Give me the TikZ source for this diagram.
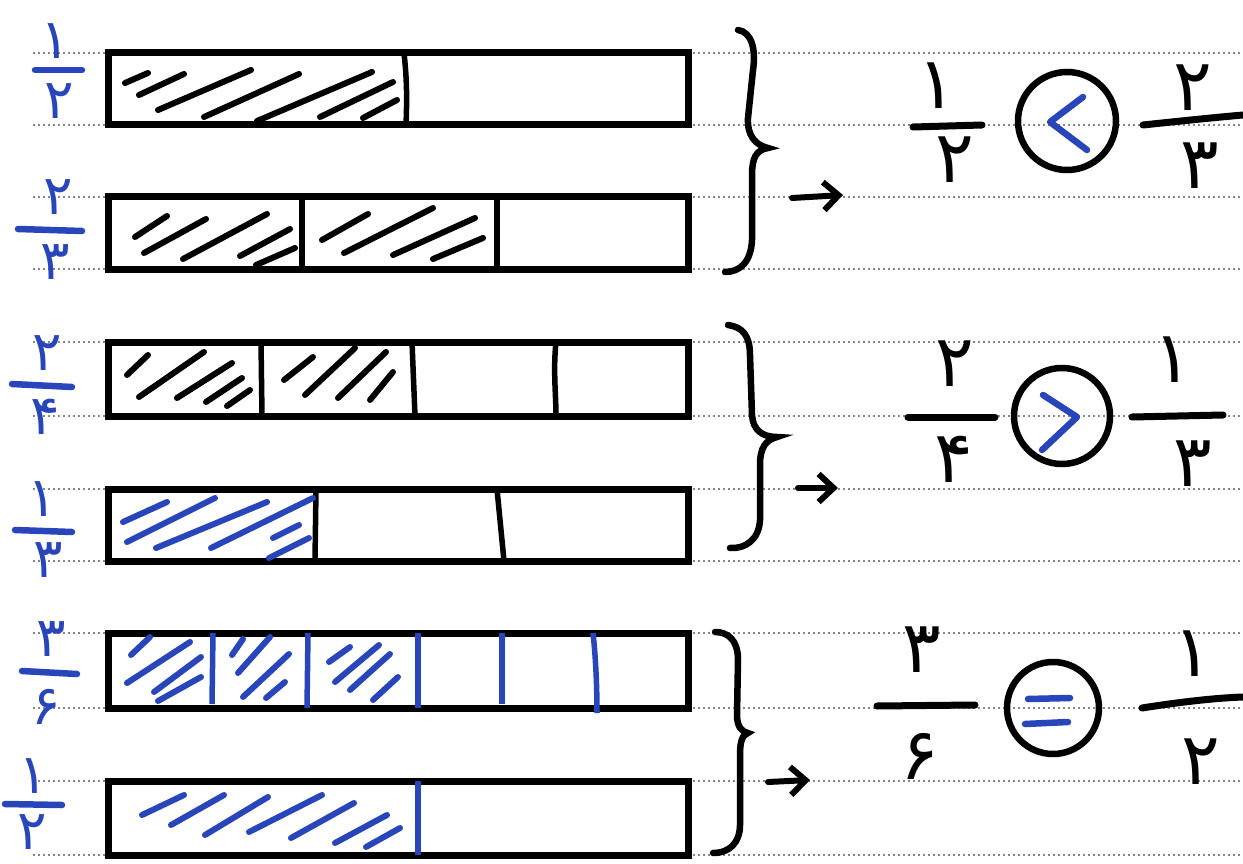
\documentclass[tikz,border=0pt]{standalone}
\usepackage{fontspec}
\newfontfamily\fa[Script=Arabic]{DejaVu Sans}
\usetikzlibrary{arrows.meta}
\definecolor{pen}{RGB}{40,70,185}
\definecolor{dotc}{RGB}{135,135,135}
\begin{document}
\begin{tikzpicture}[x=1pt,y=-1pt,
  guide/.style={dotc, line width=2.2pt, dash pattern=on 2.2pt off 2.8pt},
  barbox/.style={line width=7pt},
  divider/.style={line width=5.5pt},
  hatch/.style={line width=6pt, line cap=round},
  brace/.style={line width=6.5pt, line cap=round},
  arr/.style={line width=6pt, line cap=round, -{Straight Barb[length=15pt,width=28pt]}},
  digL/.style={text=pen, font=\fa\fontsize{55}{55}\selectfont, inner sep=0pt},
  digR/.style={text=black, font=\fa\fontsize{72}{72}\selectfont, inner sep=0pt},
  fracL/.style={pen, line width=6.5pt, line cap=round},
  fracR/.style={line width=7pt, line cap=round},
  opcirc/.style={circle, draw, line width=6.5pt, inner sep=0pt},
  opsym/.style={pen, line width=6.5pt, line cap=round, line join=round}
]
\useasboundingbox (0,0) rectangle (1243,864);
\fill[white] (0,0) rectangle (1243,864);
% guide lines
\foreach \y in {53,125,197,269,342,416,489,561,633,708,781,855}
  \draw[guide] (33,\y) -- (1243,\y);

% ---------- bars ----------
\draw[barbox] (108,53) rectangle (688,125);
\draw[barbox] (108,197) rectangle (688,269);
\draw[barbox] (108,342) rectangle (688,416);
\draw[barbox] (108,489) rectangle (688,561);
\draw[barbox] (108,633) rectangle (688,708);
\draw[barbox] (108,781) rectangle (688,855);

% dividers
\draw[divider] (404,53) .. controls (407,80) and (407,100) .. (406,125);
\draw[divider] (302,197) -- (302,269);
\draw[divider] (497,197) -- (497,269);
\draw[divider] (261,342) -- (262,416);
\draw[divider] (412,342) -- (415,416);
\draw[divider] (556,342) .. controls (553,370) and (556,395) .. (556,416);
\draw[divider] (316,489) -- (315,561);
\draw[divider] (497,489) -- (504,561);
\draw[divider,pen] (213,633) -- (212,704);
\draw[divider,pen] (308,633) -- (307,708);
\draw[divider,pen] (418,633) -- (418,708);
\draw[divider,pen] (502,633) -- (502,704);
\draw[divider,pen] (593,633) .. controls (596,660) and (597,690) .. (597,713);
\draw[divider,pen] (418,781) -- (418,855);

% hatching bar 1
\draw[hatch] (125,83) -- (148,73);
\draw[hatch] (139,95) -- (184,74);
\draw[hatch] (158,110) -- (251,70);
\draw[hatch] (204,117) -- (299,74);
\draw[hatch] (257,121) -- (372,72);
\draw[hatch] (320,117) -- (393,82);
\draw[hatch] (363,118) -- (397,100);
% hatching bar 2
\draw[hatch] (135,237) -- (167,216);
\draw[hatch] (144,253) -- (206,219);
\draw[hatch] (183,259) -- (267,214);
\draw[hatch] (240,256) -- (290,229);
\draw[hatch] (256,265) -- (295,248);
\draw[hatch] (322,240) -- (368,214);
\draw[hatch] (344,253) -- (433,208);
\draw[hatch] (393,255) -- (475,218);
\draw[hatch] (433,259) -- (483,238);
% hatching bar 3
\draw[hatch] (127,375) -- (148,355);
\draw[hatch] (139,397) -- (204,352);
\draw[hatch] (177,398) -- (232,363);
\draw[hatch] (206,402) -- (242,378);
\draw[hatch] (227,406) -- (250,390);
\draw[hatch] (284,380) -- (313,357);
\draw[hatch] (305,395) -- (355,348);
\draw[hatch] (338,398) -- (386,352);
\draw[hatch] (370,400) -- (393,372);
% hatching bar 4 (blue)
\draw[hatch,pen] (123,522) -- (167,502);
\draw[hatch,pen] (127,542) -- (215,498);
\draw[hatch,pen] (156,548) -- (267,502);
\draw[hatch,pen] (211,548) -- (313,498);
\draw[hatch,pen] (273,538) -- (299,525);
\draw[hatch,pen] (269,558) -- (309,538);
% hatching bar 5 (blue)
\draw[hatch,pen] (131,655) -- (150,637);
\draw[hatch,pen] (127,683) -- (190,642);
\draw[hatch,pen] (154,692) -- (201,657);
\draw[hatch,pen] (158,701) -- (201,677);
\draw[hatch,pen] (232,655) -- (243,639);
\draw[hatch,pen] (238,673) -- (270,637);
\draw[hatch,pen] (243,697) -- (289,654);
\draw[hatch,pen] (266,698) -- (285,682);
\draw[hatch,pen] (329,662) -- (350,647);
\draw[hatch,pen] (335,682) -- (379,645);
\draw[hatch,pen] (350,690) -- (390,654);
\draw[hatch,pen] (373,700) -- (398,677);
% hatching bar 6 (blue)
\draw[hatch,pen] (142,815) -- (184,795);
\draw[hatch,pen] (171,825) -- (224,795);
\draw[hatch,pen] (205,835) -- (268,797);
\draw[hatch,pen] (249,832) -- (322,795);
\draw[hatch,pen] (291,838) -- (354,803);
\draw[hatch,pen] (335,843) -- (387,815);
\draw[hatch,pen] (366,847) -- (400,828);

% ---------- left labels ----------
\node[digL] (l1n) at (55,41) {۱};
\node[digL] (l1d) at (59,101) {۲};
\draw[fracL] (35,70) -- (82,70);
\node[digL] (l2n) at (58,197) {۲};
\node[digL] (l2d) at (55,262) {۳};
\draw[fracL] (18,229) -- (82,231);
\node[digL] (l3n) at (47,353) {۲};
\node[digL] (l3d) at (45,417) {۴};
\draw[fracL] (12,384) -- (72,387);
\node[digL] (l4n) at (42,499) {۱};
\node[digL] (l4d) at (48,560) {۳};
\draw[fracL] (15,530) -- (72,532);
\node[digL] (l5n) at (51,639) {۳};
\node[digL] (l5d) at (46,707) {۶};
\draw[fracL] (22,671) -- (77,674);
\node[digL] (l6n) at (33,776) {۱};
\node[digL] (l6d) at (32,832) {۲};
\draw[fracL] (5,804) -- (62,805);

% ---------- braces ----------
\draw[brace] (738,30) .. controls (752,32) and (756,50) .. (753,70) -- (748,118)
  .. controls (747,135) and (755,145) .. (768,148)
  .. controls (756,150) and (752,158) .. (752,175) -- (752,240)
  .. controls (751,262) and (740,272) .. (725,272);
\draw[brace] (728,325) .. controls (742,327) and (750,335) .. (750,355) -- (752,415)
  .. controls (753,430) and (762,437) .. (777,437)
  .. controls (766,440) and (760,447) .. (760,465) -- (760,520)
  .. controls (759,540) and (745,549) .. (730,548);
\draw[brace] (715,632) .. controls (728,632) and (738,640) .. (738,660) -- (737,715)
  .. controls (737,727) and (742,732) .. (748,733)
  .. controls (742,735) and (740,742) .. (740,755) -- (740,825)
  .. controls (740,842) and (730,853) .. (713,853);

% arrows
\coordinate (a1s) at (792,198); \coordinate (a1e) at (843,195);
\coordinate (a2s) at (798,488); \coordinate (a2e) at (838,488);
\coordinate (a3s) at (768,782); \coordinate (a3e) at (810,780);
\draw[arr] (a1s) -- (a1e);
\draw[arr] (a2s) -- (a2e);
\draw[arr] (a3s) -- (a3e);

% ---------- right comparisons ----------
% 1/2 < 2/3
\node[digR] (r1an) at (937,86) {۱};
\node[digR] (r1ad) at (955,160) {۲};
\draw[fracR] (913,127) -- (982,125);
\node[opcirc, minimum size=98pt] (c1) at (1067,121) {};
\draw[opsym] ([shift={(16,-24)}]c1.center) -- ([shift={(-17,1)}]c1.center) -- ([shift={(20,29)}]c1.center);
\node[digR] (r1bn) at (1193,88) {۲};
\node[digR] (r1bd) at (1200,166) {۳};
\draw[fracR] (1143,125) .. controls (1190,120) and (1220,117) .. (1243,115);

% 2/4 > 1/3
\node[digR] (r2an) at (955,364) {۲};
\node[digR] (r2ad) at (954,459) {۴};
\draw[fracR] (908,417) -- (995,417);
\node[opcirc, minimum size=96pt] (c2) at (1062,416) {};
\draw[opsym] ([shift={(-19,-21)}]c2.center) -- ([shift={(15,1)}]c2.center) -- ([shift={(-20,34)}]c2.center);
\node[digR] (r2bn) at (1173,360) {۱};
\node[digR] (r2bd) at (1193,464) {۳};
\draw[fracR] (1132,417) -- (1223,415);

% 3/6 = 1/2
\node[digR] (r3an) at (922,650) {۳};
\node[digR] (r3ad) at (920,756) {۶};
\draw[fracR] (877,706) -- (975,705);
\node[opcirc, minimum size=92pt] (c3) at (1053,708) {};
\draw[opsym] ([shift={(-25,-9)}]c3.center) -- ([shift={(17,-10)}]c3.center);
\draw[opsym] ([shift={(-28,16)}]c3.center) -- ([shift={(15,14)}]c3.center);
\node[digR] (r3bn) at (1193,654) {۱};
\node[digR] (r3bd) at (1201,762) {۲};
\draw[fracR] (1142,708) .. controls (1180,702) and (1215,698) .. (1243,697);
\end{tikzpicture}
\end{document}
